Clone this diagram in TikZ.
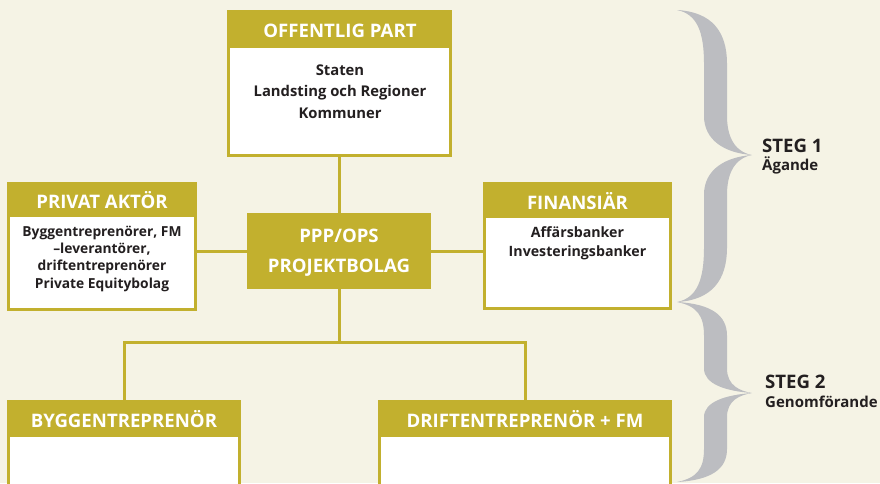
\documentclass[tikz,border=0pt]{standalone}
\usepackage{fontspec}
\setmainfont{Open Sans}
\definecolor{gold}{HTML}{C2B02E}
\definecolor{cream}{HTML}{F5F3E5}
\definecolor{bracegray}{HTML}{BCBDC1}
\definecolor{ink}{HTML}{231F20}

% one curly brace: #1 top y, #2 tip y, #3 bottom y
\newcommand\gbrace[3]{%
  \fill[bracegray]
    (677,#1) .. controls (712,#1+2) and (727,{#1+0.15*(#2-#1)}) .. (727,{#1+0.37*(#2-#1)})
    -- (727,{#2-0.27*(#2-#1)}) .. controls (727,{#2-0.08*(#2-#1)}) and (740,#2-2) .. (752,#2)
    .. controls (740,#2+2) and (727,{#2+0.08*(#3-#2)}) .. (727,{#2+0.27*(#3-#2)})
    -- (727,{#3-0.37*(#3-#2)}) .. controls (727,{#3-0.15*(#3-#2)}) and (712,#3-2) .. (677,#3)
    .. controls (697,#3-4) and (704,{#3-0.15*(#3-#2)}) .. (704,{#3-0.37*(#3-#2)})
    -- (704,{#2+0.27*(#3-#2)}) .. controls (704,{#2+0.1*(#3-#2)}) and (725,#2+2) .. (752,#2)
    .. controls (725,#2-2) and (704,{#2-0.1*(#2-#1)}) .. (704,{#2-0.27*(#2-#1)})
    -- (704,{#1+0.37*(#2-#1)}) .. controls (704,{#1+0.15*(#2-#1)}) and (697,#1+4) .. (677,#1)
    -- cycle;}

\tikzset{
  frame/.style={draw=gold, line width=3pt, fill=white, inner sep=0pt, outer sep=0pt, anchor=north west},
  band/.style={fill=gold, inner sep=0pt, outer sep=0pt, anchor=north west},
  head/.style={text=white, font=\bfseries\fontsize{18.6}{30}\selectfont, inner sep=0pt, anchor=base, align=center},
  body/.style 2 args={text=ink, font=\bfseries\fontsize{#1}{#2}\selectfont, inner sep=0pt, anchor=base, align=center},
  conn/.style={draw=gold, line width=3pt},
  steg/.style={text=ink, font=\bfseries\fontsize{18.6}{20}\selectfont, inner sep=0pt, anchor=base west},
  stegsub/.style={text=ink, font=\bfseries\fontsize{15}{17}\selectfont, inner sep=0pt, anchor=base west},
}

\begin{document}
\begin{tikzpicture}[x=1pt, y=-1pt]
\useasboundingbox (0,0) rectangle (880,483);
\fill[cream] (0,0) rectangle (880,483);

% braces on the right
\gbrace{10}{155}{302}
\gbrace{302}{393}{482}
\node[steg] (s1) at (762,152) {STEG 1};
\node[stegsub] (s1t) at (762,170) {Ägande};
\node[steg] (s2) at (765,388) {STEG 2};
\node[stegsub] (s2t) at (765,407) {Genomförande};

% boxes (multi-line texts are placed by the baseline of their last line)
\node[frame, minimum width=222pt, minimum height=144pt] (off) at (228.5,11.5) {};
\node[band, minimum width=225pt, minimum height=38pt] (offh) at (227,10) {};
\node[head] (offt) at (340,37) {OFFENTLIG PART};
\node[body={14.8}{21.5}] (offb) at (340,118) {Staten\\Landsting och Regioner\\Kommuner};

\node[frame, minimum width=187pt, minimum height=126pt] (priv) at (8.5,183.5) {};
\node[band, minimum width=190pt, minimum height=35pt] (privh) at (7,182) {};
\node[head] (privt) at (102,208) {PRIVAT AKTÖR};
\node[body={13.8}{17.3}] (privb) at (102,288) {Byggentreprenörer, FM\\–leverantörer,\\driftentreprenörer\\Private Equitybolag};

\node[frame, minimum width=186pt, minimum height=125pt] (fin) at (484.5,183.5) {};
\node[band, minimum width=189pt, minimum height=36pt] (finh) at (483,182) {};
\node[head] (fint) at (577.5,209) {FINANSIÄR};
\node[body={14.2}{19}] (finb) at (577.5,256) {Affärsbanker\\Investeringsbanker};

\node[fill=gold, inner sep=0pt, outer sep=0pt, minimum width=184pt, minimum height=76pt, anchor=north west] (ppp) at (247,213) {};
\node[head] (pppt) at (339,272) {PPP/OPS\\PROJEKTBOLAG};

\node[frame, minimum width=231pt, minimum height=120pt] (bygg) at (8.5,401.5) {};
\node[band, minimum width=234pt, minimum height=37pt] (byggh) at (7,400) {};
\node[head] (byggt) at (124,427) {BYGGENTREPRENÖR};

\node[frame, minimum width=291pt, minimum height=120pt] (drift) at (379.5,401.5) {};
\node[band, minimum width=294pt, minimum height=37pt] (drifth) at (378,400) {};
\node[head] (driftt) at (525,427) {DRIFTENTREPRENÖR + FM};

% connectors
\draw[conn] (off.south -| ppp.north) -- (ppp.north);
\draw[conn] (priv.east |- ppp.west) -- (ppp.west);
\draw[conn] (ppp.east) -- (fin.west |- ppp.east);
\draw[conn] (ppp.south) -- ++(0,53) coordinate (split);
\draw[conn] (bygg.north) |- (split) -| (drift.north);
\end{tikzpicture}
\end{document}
